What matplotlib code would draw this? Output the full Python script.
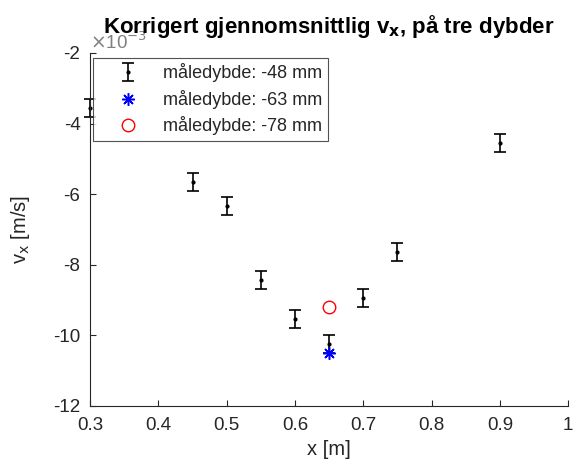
import matplotlib
matplotlib.use("Agg")
import matplotlib.pyplot as plt

plt.rcParams['font.family'] = ['Liberation Sans', 'DejaVu Sans']
plt.rcParams['axes.unicode_minus'] = False

# Corrected mean v_x (units of 1e-3 m/s) at three measuring depths
x_48 = [0.30, 0.45, 0.50, 0.55, 0.60, 0.65, 0.70, 0.75, 0.90]
vx_48 = [-3.56, -5.65, -6.34, -8.43, -9.54, -10.24, -8.94, -7.64, -4.56]
err_48 = [0.25, 0.25, 0.25, 0.26, 0.25, 0.25, 0.25, 0.25, 0.25]

x_63 = [0.65]
vx_63 = [-10.50]

x_78 = [0.65]
vx_78 = [-9.21]

labels = ['måledybde: -48 mm', 'måledybde: -63 mm', 'måledybde: -78 mm']
xticks = [0.3, 0.4, 0.5, 0.6, 0.7, 0.8, 0.9, 1.0]
xticklabels = ['0.3', '0.4', '0.5', '0.6', '0.7', '0.8', '0.9', '1']
yticks = [-12, -10, -8, -6, -4, -2]

gray = '#262626'

fig = plt.figure(figsize=(5.74, 4.68), dpi=100)
ax = fig.add_axes([0.157, 0.1325, 0.833, 0.7545])

eb = ax.errorbar(x_48, vx_48, yerr=err_48, fmt='.', color='black', ecolor='black',
                 markersize=4, elinewidth=1.2, capsize=4, capthick=1.2,
                 label=labels[0])
for art in eb.lines[1] + eb.lines[2]:
    art.set_clip_on(False)
eb.lines[0].set_clip_on(False)
h63, = ax.plot(x_63, vx_63, linestyle='none', marker=(8, 2, 0), markersize=9,
               markeredgewidth=1.1, color='blue', label=labels[1])
h78, = ax.plot(x_78, vx_78, linestyle='none', marker='o', markersize=9,
               markerfacecolor='none', markeredgewidth=1.0, color='red',
               label=labels[2])

ax.set_xlim(0.3, 1.0)
ax.set_ylim(-12, -2)
ax.set_xticks(xticks)
ax.set_xticklabels(xticklabels)
ax.set_yticks(yticks)

for side in ('top', 'right'):
    ax.spines[side].set_visible(False)
for side in ('left', 'bottom'):
    ax.spines[side].set_color(gray)
    ax.spines[side].set_linewidth(0.8)

ax.tick_params(direction='in', length=4, width=0.8, colors=gray, labelsize=13.5)
ax.tick_params(axis='x', pad=8)
ax.tick_params(axis='y', pad=7)

ax.set_xlabel('x [m]', fontsize=14.5, color=gray, labelpad=4)
ax.set_ylabel(r'v$_{\rm x}$ [m/s]', fontsize=14.5, color=gray, labelpad=15)

ax.text(0.0, 1.0, r'$\times$10$^{-3}$', transform=ax.transAxes,
        fontsize=13.5, color='#808080', ha='left', va='bottom', zorder=1)
ax.set_title(r'Korrigert gjennomsnittlig v$_{\mathbf{x}}$, på tre dybder',
             fontsize=16, fontweight='bold', color='black', pad=14)

leg = ax.legend([eb, h63, h78], labels, loc='upper left',
                bbox_to_anchor=(0.006, 0.986), fontsize=13,
                frameon=True, fancybox=False, edgecolor=gray, handlelength=3.3,
                handletextpad=0.3, borderpad=0.3, labelspacing=0.42,
                borderaxespad=0.0)
leg.get_frame().set_linewidth(0.8)
for t in leg.get_texts():
    t.set_color(gray)

fig.savefig('out.png', dpi=100)
